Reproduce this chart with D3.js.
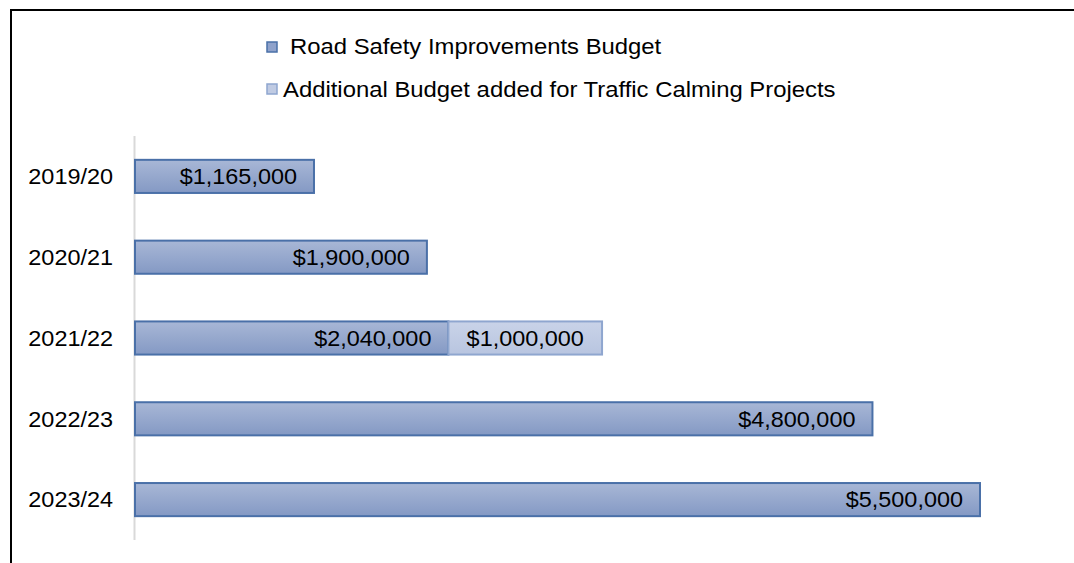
<!DOCTYPE html>
<html>
<head>
<meta charset="utf-8">
<script src="https://cdn.jsdelivr.net/npm/d3@7"></script>
<style>
	body { margin: 0; background: #fff; }
	text { font-family: "Liberation Sans", Arial, sans-serif; fill: #000; font-size: 22px; }
</style>
</head>
<body>
<script>
	var years = ["2019/20", "2020/21", "2021/22", "2022/23", "2023/24"];
	var roadSafety = [1165000, 1900000, 2040000, 4800000, 5500000];
	var trafficCalming = [0, 0, 1000000, 0, 0];
	var seriesNames = ["Road Safety Improvements Budget", "Additional Budget added for Traffic Calming Projects"];

	var width = 1074, height = 563;
	var sx = 1.065; // source text is a bit wider than Arial

	var svg = d3.select("body").append("svg")
		.attr("width", width)
		.attr("height", height);

	var defs = svg.append("defs");
	var g1 = defs.append("linearGradient").attr("id", "gradMain")
		.attr("x1", 0).attr("y1", 0).attr("x2", 0).attr("y2", 1);
	g1.append("stop").attr("offset", "0%").attr("stop-color", "#a8b7d6");
	g1.append("stop").attr("offset", "100%").attr("stop-color", "#8499c4");
	var g2 = defs.append("linearGradient").attr("id", "gradAdd")
		.attr("x1", 0).attr("y1", 0).attr("x2", 0).attr("y2", 1);
	g2.append("stop").attr("offset", "0%").attr("stop-color", "#c9d3e8");
	g2.append("stop").attr("offset", "100%").attr("stop-color", "#b8c5e0");

	// frame
	svg.append("path")
		.attr("d", "M11,563 V10 H1074")
		.attr("fill", "none")
		.attr("stroke", "#000")
		.attr("stroke-width", 2);

	var x = d3.scaleLinear()
		.domain([0, 5500000])
		.range([135, 980]);

	var y = d3.scaleBand()
		.domain(years)
		.range([136, 540])
		.paddingInner(0.59)
		.paddingOuter(0.295);

	var place = function(px, py, k) {
		return "translate(" + px + "," + py + ") scale(" + (k || sx) + ",1)";
	};
	var midY = function(d) { return y(d) + y.bandwidth() / 2; };

	// axis line
	svg.append("line")
		.attr("x1", 134.5).attr("x2", 134.5)
		.attr("y1", 136).attr("y2", 540)
		.attr("stroke", "#d9d9d9")
		.attr("stroke-width", 2);

	// category labels
	svg.selectAll(".cat")
		.data(years)
		.enter()
		.append("text")
		.attr("transform", function(d) { return place(113, midY(d)); })
		.attr("dy", "0.35em")
		.attr("text-anchor", "end")
		.text(function(d) { return d; });

	var fmt = function(v) { return "$" + d3.format(",")(v); };

	// main bars
	svg.selectAll(".main")
		.data(years)
		.enter()
		.append("rect")
		.attr("x", x(0))
		.attr("y", function(d) { return y(d); })
		.attr("width", function(d, i) { return x(roadSafety[i]) - x(0); })
		.attr("height", y.bandwidth())
		.attr("fill", "url(#gradMain)")
		.attr("stroke", "#4a70a8")
		.attr("stroke-width", 2);

	// additional bars
	var addYears = years.filter(function(d, i) { return trafficCalming[i] > 0; });
	svg.selectAll(".add")
		.data(addYears)
		.enter()
		.append("rect")
		.attr("x", function(d) { return x(roadSafety[years.indexOf(d)]); })
		.attr("y", function(d) { return y(d); })
		.attr("width", function(d) {
			var i = years.indexOf(d);
			return x(roadSafety[i] + trafficCalming[i]) - x(roadSafety[i]);
		})
		.attr("height", y.bandwidth())
		.attr("fill", "url(#gradAdd)")
		.attr("stroke", "#8fa6cf")
		.attr("stroke-width", 2);

	// labels
	svg.selectAll(".mainLbl")
		.data(years)
		.enter()
		.append("text")
		.attr("transform", function(d, i) { return place(x(roadSafety[i]) - 17, midY(d)); })
		.attr("dy", "0.35em")
		.attr("text-anchor", "end")
		.text(function(d, i) { return fmt(roadSafety[i]); });

	svg.selectAll(".addLbl")
		.data(addYears)
		.enter()
		.append("text")
		.attr("transform", function(d) {
			var i = years.indexOf(d);
			return place((x(roadSafety[i]) + x(roadSafety[i] + trafficCalming[i])) / 2, midY(d));
		})
		.attr("dy", "0.35em")
		.attr("text-anchor", "middle")
		.text(function(d) { return fmt(trafficCalming[years.indexOf(d)]); });

	// legend
	var legend = [
		{ name: seriesNames[0], fill: "#8fa2cb", stroke: "#4a70a8", sx: 267, sy: 42, tx: 290, ty: 46 },
		{ name: seriesNames[1], fill: "#c0cbe3", stroke: "#8fa6cf", sx: 267, sy: 84, tx: 283, ty: 89 }
	];
	var lg = svg.selectAll(".leg").data(legend).enter().append("g");
	lg.append("rect")
		.attr("x", function(d) { return d.sx; })
		.attr("y", function(d) { return d.sy; })
		.attr("width", 10).attr("height", 10)
		.attr("fill", function(d) { return d.fill; })
		.attr("stroke", function(d) { return d.stroke; })
		.attr("stroke-width", 1.5);
	lg.append("text")
		.attr("transform", function(d) { return place(d.tx, d.ty, 1.085); })
		.attr("dy", "0.35em")
		.text(function(d) { return d.name; });
</script>
</body>
</html>
